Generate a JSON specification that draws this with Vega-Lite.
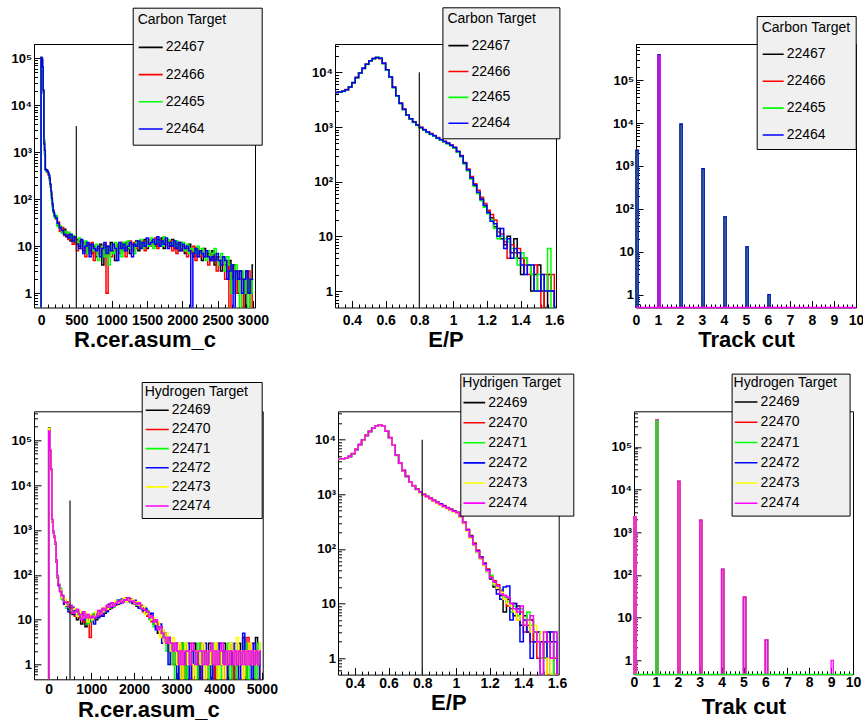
{
"$schema": "https://vega.github.io/schema/vega-lite/v6.json",
"background": "white",
"padding": {"left": 10, "top": 6, "right": 0, "bottom": 0},
"config": {
 "font": "Liberation Sans",
 "view": {"stroke": "#000", "strokeWidth": 1},
 "axis": {"domain": false, "grid": false, "labelFont": "Liberation Sans", "labelFontWeight": "bold", "labelColor": "#000", "tickColor": "#000", "tickWidth": 1, "titleFont": "Liberation Sans", "titleFontWeight": "bold", "titleFontSize": 22, "titleColor": "#000", "labelOverlap": false, "labelFlush": false},
 "axisX": {"labelFontSize": 14, "titlePadding": 2},
 "axisY": {"labelFontSize": 13},
 "legend": {"orient": "none", "fillColor": "#f0f0f0", "strokeColor": "#000", "titleFont": "Liberation Sans", "titleFontSize": 14, "titleFontWeight": "normal", "titleColor": "#000", "labelFont": "Liberation Sans", "labelFontSize": 14, "labelColor": "#000", "symbolType": "stroke", "symbolStrokeWidth": 1.6, "labelOffset": 2, "titleLimit": 300}
},
"datasets": {
 "cuts": [{"p":"A","x":500,"top":3600},{"p":"B","x":0.8,"top":10000},{"p":"D","x":500,"top":4500},{"p":"E","x":0.8,"top":10000}],
 "cerC": [
{"x":-5,"22467":0,"22466":0,"22465":0,"22464":0},
{"x":5,"22467":105000,"22466":100000,"22465":98000,"22464":102000},
{"x":15,"22467":95000,"22466":90000,"22465":92000,"22464":100000},
{"x":25,"22467":60000,"22466":55000,"22465":58000,"22464":65000},
{"x":35,"22467":20000,"22466":18000,"22465":19000,"22464":21000},
{"x":45,"22467":1800,"22466":1600,"22465":1700,"22464":1500},
{"x":55,"22467":900,"22466":1000,"22465":950,"22464":1100},
{"x":65,"22467":440,"22466":420,"22465":450,"22464":430},
{"x":75,"22467":410,"22466":400,"22465":390,"22464":420},
{"x":85,"22467":420,"22466":380,"22465":400,"22464":410},
{"x":95,"22467":380,"22466":400,"22465":370,"22464":390},
{"x":105,"22467":350,"22466":330,"22465":360,"22464":370},
{"x":115,"22467":320,"22466":300,"22465":310,"22464":330},
{"x":125,"22467":250,"22466":270,"22465":260,"22464":280},
{"x":135,"22467":200,"22466":180,"22465":190,"22464":210},
{"x":145,"22467":130,"22466":140,"22465":120,"22464":150},
{"x":155,"22467":95,"22466":100,"22465":90,"22464":105},
{"x":165,"22467":70,"22466":75,"22465":65,"22464":80},
{"x":175,"22467":55,"22466":60,"22465":52,"22464":58},
{"x":185,"22467":50,"22466":45,"22465":48,"22464":52},
{"x":195,"22467":45,"22466":42,"22465":40,"22464":44},
{"x":215,"22467":42,"22466":38,"22465":45,"22464":40},
{"x":245,"22467":28,"22466":33,"22465":26,"22464":31},
{"x":275,"22467":24,"22466":21,"22465":27,"22464":25},
{"x":305,"22467":20,"22466":25,"22465":19,"22464":22},
{"x":335,"22467":23,"22466":17,"22465":21,"22464":18},
{"x":365,"22467":16,"22466":20,"22465":19,"22464":17},
{"x":395,"22467":18,"22466":14,"22465":20,"22464":15},
{"x":425,"22467":13,"22466":17,"22465":15,"22464":18},
{"x":455,"22467":16,"22466":11,"22465":17,"22464":13},
{"x":485,"22467":12,"22466":15,"22465":13,"22464":16},
{"x":515,"22467":14,"22466":8,"22465":12,"22464":11},
{"x":545,"22467":10,"22466":13,"22465":15,"22464":9},
{"x":575,"22467":13,"22466":9,"22465":11,"22464":14},
{"x":605,"22467":8,"22466":12,"22465":10,"22464":7},
{"x":635,"22467":12,"22466":6,"22465":13,"22464":10},
{"x":665,"22467":9,"22466":11,"22465":7,"22464":12},
{"x":695,"22467":11,"22466":8,"22465":10,"22464":6},
{"x":725,"22467":7,"22466":12,"22465":9,"22464":11},
{"x":755,"22467":10,"22466":5,"22465":8,"22464":9},
{"x":785,"22467":6,"22466":9,"22465":11,"22464":8},
{"x":815,"22467":9,"22466":7,"22465":5,"22464":10},
{"x":845,"22467":11,"22466":10,"22465":8,"22464":6},
{"x":875,"22467":4,"22466":8,"22465":10,"22464":9},
{"x":905,"22467":8,"22466":11,"22465":6,"22464":12},
{"x":935,"22467":10,"22466":1,"22465":9,"22464":7},
{"x":965,"22467":7,"22466":9,"22465":4,"22464":10},
{"x":995,"22467":12,"22466":6,"22465":10,"22464":8},
{"x":1025,"22467":8,"22466":10,"22465":7,"22464":11},
{"x":1055,"22467":5,"22466":8,"22465":12,"22464":9},
{"x":1085,"22467":10,"22466":11,"22465":8,"22464":5},
{"x":1115,"22467":9,"22466":7,"22465":11,"22464":12},
{"x":1145,"22467":11,"22466":12,"22465":6,"22464":9},
{"x":1175,"22467":8,"22466":10,"22465":12,"22464":11},
{"x":1205,"22467":12,"22466":6,"22465":10,"22464":8},
{"x":1235,"22467":9,"22466":11,"22465":13,"22464":10},
{"x":1265,"22467":7,"22466":13,"22465":9,"22464":12},
{"x":1295,"22467":11,"22466":8,"22465":10,"22464":6},
{"x":1325,"22467":10,"22466":12,"22465":7,"22464":11},
{"x":1355,"22467":13,"22466":9,"22465":12,"22464":10},
{"x":1385,"22467":8,"22466":11,"22465":10,"22464":13},
{"x":1415,"22467":12,"22466":10,"22465":14,"22464":9},
{"x":1445,"22467":10,"22466":13,"22465":9,"22464":12},
{"x":1475,"22467":14,"22466":8,"22465":11,"22464":10},
{"x":1505,"22467":9,"22466":12,"22465":13,"22464":15},
{"x":1535,"22467":11,"22466":14,"22465":10,"22464":11},
{"x":1565,"22467":13,"22466":10,"22465":15,"22464":12},
{"x":1595,"22467":12,"22466":11,"22465":9,"22464":14},
{"x":1625,"22467":10,"22466":15,"22465":12,"22464":11},
{"x":1655,"22467":14,"22466":9,"22465":13,"22464":16},
{"x":1685,"22467":11,"22466":13,"22465":12,"22464":10},
{"x":1715,"22467":15,"22466":12,"22465":10,"22464":13},
{"x":1745,"22467":9,"22466":14,"22465":16,"22464":11},
{"x":1775,"22467":13,"22466":11,"22465":12,"22464":15},
{"x":1805,"22467":12,"22466":10,"22465":14,"22464":9},
{"x":1835,"22467":10,"22466":13,"22465":11,"22464":12},
{"x":1865,"22467":14,"22466":8,"22465":12,"22464":10},
{"x":1895,"22467":9,"22466":12,"22465":10,"22464":13},
{"x":1925,"22467":11,"22466":7,"22465":13,"22464":9},
{"x":1955,"22467":8,"22466":11,"22465":9,"22464":12},
{"x":1985,"22467":12,"22466":9,"22465":10,"22464":8},
{"x":2015,"22467":10,"22466":8,"22465":12,"22464":11},
{"x":2045,"22467":7,"22466":10,"22465":8,"22464":9},
{"x":2075,"22467":9,"22466":6,"22465":11,"22464":10},
{"x":2105,"22467":11,"22466":9,"22465":7,"22464":8},
{"x":2135,"22467":8,"22466":7,"22465":9,"22464":0},
{"x":2165,"22467":6,"22466":10,"22465":8,"22464":7},
{"x":2195,"22467":9,"22466":5,"22465":7,"22464":9},
{"x":2225,"22467":7,"22466":9,"22465":10,"22464":6},
{"x":2255,"22467":8,"22466":6,"22465":7,"22464":8},
{"x":2285,"22467":5,"22466":8,"22465":9,"22464":7},
{"x":2315,"22467":9,"22466":6,"22465":7,"22464":6},
{"x":2345,"22467":6,"22466":7,"22465":5,"22464":8},
{"x":2375,"22467":7,"22466":4,"22465":8,"22464":6},
{"x":2405,"22467":5,"22466":7,"22465":6,"22464":5},
{"x":2435,"22467":8,"22466":5,"22465":7,"22464":6},
{"x":2465,"22467":4,"22466":6,"22465":9,"22464":5},
{"x":2495,"22467":6,"22466":3,"22465":5,"22464":7},
{"x":2525,"22467":5,"22466":6,"22465":4,"22464":5},
{"x":2555,"22467":3,"22466":5,"22465":7,"22464":4},
{"x":2585,"22467":6,"22466":4,"22465":5,"22464":6},
{"x":2615,"22467":4,"22466":2,"22465":3,"22464":5},
{"x":2645,"22467":3,"22466":5,"22465":6,"22464":2},
{"x":2675,"22467":5,"22466":0,"22465":4,"22464":3},
{"x":2705,"22467":2,"22466":4,"22465":1,"22464":4},
{"x":2735,"22467":4,"22466":3,"22465":2,"22464":0},
{"x":2765,"22467":3,"22466":1,"22465":4,"22464":3},
{"x":2795,"22467":1,"22466":3,"22465":2,"22464":2},
{"x":2825,"22467":3,"22466":2,"22465":0,"22464":3},
{"x":2855,"22467":2,"22466":0,"22465":3,"22464":1},
{"x":2885,"22467":0,"22466":2,"22465":1,"22464":2},
{"x":2915,"22467":3,"22466":1,"22465":2,"22464":3},
{"x":2945,"22467":2,"22466":3,"22465":0,"22464":1},
{"x":2975,"22467":1,"22466":0,"22465":2,"22464":2},
{"x":3005,"22467":4,"22466":2,"22465":1,"22464":2}
 ],
 "epC": [
{"x":0.29,"22467":4300,"22466":4300,"22465":4300,"22464":4300},
{"x":0.31,"22467":4300,"22466":4320,"22465":4280,"22464":4300},
{"x":0.33,"22467":4350,"22466":4380,"22465":4340,"22464":4360},
{"x":0.35,"22467":4500,"22466":4520,"22465":4480,"22464":4510},
{"x":0.37,"22467":4800,"22466":4850,"22465":4820,"22464":4790},
{"x":0.39,"22467":5400,"22466":5450,"22465":5380,"22464":5420},
{"x":0.41,"22467":6500,"22466":6450,"22465":6550,"22464":6480},
{"x":0.43,"22467":8000,"22466":8100,"22465":7950,"22464":8050},
{"x":0.45,"22467":9700,"22466":9800,"22465":9650,"22464":9750},
{"x":0.47,"22467":11800,"22466":11900,"22465":11700,"22464":11850},
{"x":0.49,"22467":14000,"22466":14100,"22465":13900,"22464":14050},
{"x":0.51,"22467":16200,"22466":16300,"22465":16100,"22464":16250},
{"x":0.53,"22467":17800,"22466":17900,"22465":17700,"22464":17850},
{"x":0.55,"22467":18600,"22466":18500,"22465":18900,"22464":18700},
{"x":0.57,"22467":18000,"22466":17900,"22465":18200,"22464":18100},
{"x":0.59,"22467":14500,"22466":14700,"22465":14400,"22464":14600},
{"x":0.61,"22467":11000,"22466":11200,"22465":10900,"22464":11100},
{"x":0.63,"22467":8200,"22466":8300,"22465":8100,"22464":8250},
{"x":0.65,"22467":5300,"22466":5400,"22465":5250,"22464":5350},
{"x":0.67,"22467":3700,"22466":3750,"22465":3650,"22464":3720},
{"x":0.69,"22467":2700,"22466":2750,"22465":2680,"22464":2720},
{"x":0.71,"22467":2100,"22466":2130,"22465":2080,"22464":2110},
{"x":0.73,"22467":1650,"22466":1680,"22465":1640,"22464":1660},
{"x":0.75,"22467":1400,"22466":1420,"22465":1380,"22464":1410},
{"x":0.77,"22467":1220,"22466":1240,"22465":1210,"22464":1230},
{"x":0.79,"22467":1080,"22466":1100,"22465":1070,"22464":1090},
{"x":0.81,"22467":970,"22466":990,"22465":960,"22464":980},
{"x":0.83,"22467":880,"22466":900,"22465":870,"22464":890},
{"x":0.85,"22467":800,"22466":820,"22465":790,"22464":810},
{"x":0.87,"22467":740,"22466":760,"22465":730,"22464":745},
{"x":0.89,"22467":680,"22466":700,"22465":675,"22464":690},
{"x":0.91,"22467":620,"22466":640,"22465":615,"22464":630},
{"x":0.93,"22467":580,"22466":590,"22465":570,"22464":585},
{"x":0.95,"22467":540,"22466":550,"22465":530,"22464":545},
{"x":0.97,"22467":500,"22466":510,"22465":495,"22464":505},
{"x":0.99,"22467":460,"22466":470,"22465":455,"22464":465},
{"x":1.01,"22467":415,"22466":425,"22465":410,"22464":420},
{"x":1.03,"22467":350,"22466":360,"22465":345,"22464":355},
{"x":1.05,"22467":290,"22466":300,"22465":285,"22464":295},
{"x":1.07,"22467":215,"22466":225,"22465":210,"22464":220},
{"x":1.09,"22467":160,"22466":170,"22465":158,"22464":165},
{"x":1.11,"22467":115,"22466":125,"22465":112,"22464":118},
{"x":1.13,"22467":85,"22466":92,"22465":82,"22464":88},
{"x":1.15,"22467":62,"22466":70,"22465":60,"22464":64},
{"x":1.17,"22467":48,"22466":52,"22465":45,"22464":47},
{"x":1.19,"22467":36,"22466":40,"22465":34,"22464":37},
{"x":1.21,"22467":28,"22466":30,"22465":26,"22464":27},
{"x":1.23,"22467":22,"22466":25,"22465":20,"22464":19},
{"x":1.25,"22467":15,"22466":20,"22465":14,"22464":17},
{"x":1.27,"22467":14,"22466":12,"22465":9,"22464":10},
{"x":1.29,"22467":9,"22466":11,"22465":10,"22464":14},
{"x":1.31,"22467":7,"22466":8,"22465":9,"22464":6},
{"x":1.33,"22467":10,"22466":4,"22465":8,"22464":9},
{"x":1.35,"22467":5,"22466":7,"22465":6,"22464":4},
{"x":1.37,"22467":9,"22466":5,"22465":4,"22464":6},
{"x":1.39,"22467":4,"22466":6,"22465":3,"22464":5},
{"x":1.41,"22467":2,"22466":4,"22465":5,"22464":3},
{"x":1.43,"22467":4,"22466":3,"22465":4,"22464":2},
{"x":1.45,"22467":3,"22466":2,"22465":3,"22464":3},
{"x":1.47,"22467":1,"22466":2,"22465":2,"22464":3},
{"x":1.49,"22467":2,"22466":3,"22465":1,"22464":1},
{"x":1.51,"22467":3,"22466":1,"22465":2,"22464":1},
{"x":1.53,"22467":1,"22466":0,"22465":2,"22464":2},
{"x":1.55,"22467":0,"22466":2,"22465":1,"22464":1},
{"x":1.57,"22467":2,"22466":1,"22465":6,"22464":1},
{"x":1.59,"22467":1,"22466":2,"22465":0,"22464":1},
{"x":1.61,"22467":0,"22466":0,"22465":0,"22464":0}
 ],
 "trkC": [
{"r":"22467","x0":0,"x1":0.1,"n":2300},{"r":"22467","x0":1,"x1":1.1,"n":385000},{"r":"22467","x0":2,"x1":2.1,"n":9500},{"r":"22467","x0":3,"x1":3.1,"n":870},{"r":"22467","x0":4,"x1":4.1,"n":65},{"r":"22467","x0":5,"x1":5.1,"n":13},{"r":"22467","x0":6,"x1":6.1,"n":1},
{"r":"22466","x0":0,"x1":0.1,"n":2300},{"r":"22466","x0":1,"x1":1.1,"n":385000},{"r":"22466","x0":2,"x1":2.1,"n":9500},{"r":"22466","x0":3,"x1":3.1,"n":870},{"r":"22466","x0":4,"x1":4.1,"n":65},{"r":"22466","x0":5,"x1":5.1,"n":13},{"r":"22466","x0":6,"x1":6.1,"n":1},
{"r":"22465","x0":0,"x1":0.1,"n":2300},{"r":"22465","x0":1,"x1":1.1,"n":385000},{"r":"22465","x0":2,"x1":2.1,"n":9500},{"r":"22465","x0":3,"x1":3.1,"n":870},{"r":"22465","x0":4,"x1":4.1,"n":65},{"r":"22465","x0":5,"x1":5.1,"n":13},{"r":"22465","x0":6,"x1":6.1,"n":1},
{"r":"22464","x0":0,"x1":0.1,"n":2300},{"r":"22464","x0":1,"x1":1.1,"n":390000},{"r":"22464","x0":2,"x1":2.1,"n":9500},{"r":"22464","x0":3,"x1":3.1,"n":870},{"r":"22464","x0":4,"x1":4.1,"n":65},{"r":"22464","x0":5,"x1":5.1,"n":13},{"r":"22464","x0":6,"x1":6.1,"n":1},
{"r":"other","x0":0,"x1":10,"n":0},{"r":"other","x0":1,"x1":1.1,"n":370000}
 ],
 "cerH": [
{"x":-12.5,"22469":0,"22470":0,"22471":0,"22472":0,"22473":0,"22474":0},
{"x":12.5,"22469":190000,"22470":170000,"22471":180000,"22472":175000,"22473":185000,"22474":160000},
{"x":37.5,"22469":60000,"22470":58000,"22471":62000,"22472":59000,"22473":61000,"22474":60000},
{"x":62.5,"22469":22000,"22470":21000,"22471":23000,"22472":22000,"22473":21500,"22474":22500},
{"x":87.5,"22469":1600,"22470":1500,"22471":1650,"22472":1550,"22473":1580,"22474":1700},
{"x":112.5,"22469":900,"22470":870,"22471":920,"22472":880,"22473":910,"22474":950},
{"x":137.5,"22469":700,"22470":680,"22471":720,"22472":690,"22473":710,"22474":730},
{"x":162.5,"22469":500,"22470":480,"22471":520,"22472":490,"22473":510,"22474":530},
{"x":187.5,"22469":200,"22470":190,"22471":210,"22472":195,"22473":205,"22474":215},
{"x":212.5,"22469":90,"22470":85,"22471":95,"22472":88,"22473":92,"22474":96},
{"x":237.5,"22469":60,"22470":57,"22471":63,"22472":58,"22473":62,"22474":61},
{"x":275,"22469":48,"22470":42,"22471":50,"22472":44,"22473":46,"22474":43},
{"x":325,"22469":30,"22470":35,"22471":28,"22472":33,"22473":31,"22474":34},
{"x":375,"22469":24,"22470":28,"22471":27,"22472":22,"22473":29,"22474":25},
{"x":425,"22469":20,"22470":25,"22471":18,"22472":23,"22473":21,"22474":24},
{"x":475,"22469":17,"22470":22,"22471":21,"22472":15,"22473":23,"22474":19},
{"x":525,"22469":19,"22470":14,"22471":20,"22472":17,"22473":16,"22474":21},
{"x":575,"22469":13,"22470":18,"22471":15,"22472":19,"22473":17,"22474":14},
{"x":625,"22469":16,"22470":12,"22471":17,"22472":13,"22473":18,"22474":15},
{"x":675,"22469":10,"22470":15,"22471":13,"22472":16,"22473":12,"22474":17},
{"x":725,"22469":14,"22470":11,"22471":15,"22472":12,"22473":16,"22474":13},
{"x":775,"22469":8,"22470":13,"22471":11,"22472":14,"22473":12,"22474":10},
{"x":825,"22469":13,"22470":9,"22471":14,"22472":10,"22473":11,"22474":15},
{"x":875,"22469":7,"22470":12,"22471":10,"22472":13,"22473":14,"22474":11},
{"x":925,"22469":12,"22470":10,"22471":8,"22472":11,"22473":9,"22474":13},
{"x":975,"22469":9,"22470":4,"22471":12,"22472":10,"22473":13,"22474":11},
{"x":1025,"22469":11,"22470":13,"22471":9,"22472":12,"22473":10,"22474":12},
{"x":1075,"22469":13,"22470":10,"22471":14,"22472":8,"22473":12,"22474":11},
{"x":1125,"22469":10,"22470":14,"22471":11,"22472":13,"22473":15,"22474":12},
{"x":1175,"22469":14,"22470":12,"22471":15,"22472":11,"22473":13,"22474":16},
{"x":1225,"22469":12,"22470":16,"22471":13,"22472":15,"22473":14,"22474":13},
{"x":1275,"22469":16,"22470":13,"22471":17,"22472":12,"22473":15,"22474":18},
{"x":1325,"22469":14,"22470":18,"22471":15,"22472":17,"22473":19,"22474":16},
{"x":1375,"22469":19,"22470":16,"22471":20,"22472":15,"22473":17,"22474":21},
{"x":1425,"22469":17,"22470":21,"22471":18,"22472":22,"22473":20,"22474":19},
{"x":1475,"22469":22,"22470":18,"22471":23,"22472":19,"22473":21,"22474":24},
{"x":1525,"22469":20,"22470":24,"22471":19,"22472":23,"22473":22,"22474":20},
{"x":1575,"22469":25,"22470":21,"22471":24,"22472":22,"22473":26,"22474":23},
{"x":1625,"22469":22,"22470":26,"22471":23,"22472":27,"22473":24,"22474":25},
{"x":1675,"22469":27,"22470":24,"22471":28,"22472":23,"22473":25,"22474":26},
{"x":1725,"22469":24,"22470":28,"22471":25,"22472":29,"22473":27,"22474":24},
{"x":1775,"22469":29,"22470":26,"22471":28,"22472":25,"22473":30,"22474":28},
{"x":1825,"22469":26,"22470":31,"22471":27,"22472":29,"22473":25,"22474":27},
{"x":1875,"22469":30,"22470":25,"22471":29,"22472":26,"22473":28,"22474":31},
{"x":1925,"22469":27,"22470":29,"22471":24,"22472":28,"22473":26,"22474":25},
{"x":1975,"22469":24,"22470":27,"22471":26,"22472":23,"22473":28,"22474":26},
{"x":2025,"22469":26,"22470":22,"22471":25,"22472":27,"22473":23,"22474":24},
{"x":2075,"22469":20,"22470":24,"22471":21,"22472":23,"22473":25,"22474":22},
{"x":2125,"22469":23,"22470":19,"22471":22,"22472":18,"22473":21,"22474":24},
{"x":2175,"22469":18,"22470":21,"22471":17,"22472":20,"22473":19,"22474":18},
{"x":2225,"22469":19,"22470":15,"22471":18,"22472":16,"22473":20,"22474":17},
{"x":2275,"22469":14,"22470":17,"22471":15,"22472":18,"22473":13,"22474":16},
{"x":2325,"22469":15,"22470":12,"22471":16,"22472":13,"22473":14,"22474":15},
{"x":2375,"22469":11,"22470":14,"22471":10,"22472":13,"22473":12,"22474":11},
{"x":2425,"22469":12,"22470":9,"22471":11,"22472":14,"22473":10,"22474":12},
{"x":2475,"22469":8,"22470":10,"22471":7,"22472":9,"22473":11,"22474":9},
{"x":2525,"22469":9,"22470":7,"22471":8,"22472":6,"22473":8,"22474":10},
{"x":2575,"22469":5,"22470":8,"22471":6,"22472":7,"22473":9,"22474":6},
{"x":2625,"22469":7,"22470":5,"22471":6,"22472":8,"22473":4,"22474":7},
{"x":2675,"22469":4,"22470":6,"22471":5,"22472":3,"22473":6,"22474":5},
{"x":2725,"22469":5,"22470":3,"22471":4,"22472":5,"22473":3,"22474":4},
{"x":2775,"22469":3,"22470":4,"22471":2,"22472":4,"22473":5,"22474":3},
{"x":2825,"22469":4,"22470":2,"22471":3,"22472":1,"22473":3,"22474":4},
{"x":2875,"22469":2,"22470":3,"22471":1,"22472":3,"22473":2,"22474":3},
{"x":2925,"22469":3,"22470":1,"22471":2,"22472":2,"22473":4,"22474":2},
{"x":2975,"22469":1,"22470":2,"22471":0,"22472":3,"22473":2,"22474":3},
{"x":3025,"22469":2,"22470":3,"22471":1,"22472":0,"22473":1,"22474":2},
{"x":3075,"22469":0,"22470":1,"22471":2,"22472":2,"22473":3,"22474":1},
{"x":3125,"22469":3,"22470":2,"22471":1,"22472":1,"22473":0,"22474":2},
{"x":3175,"22469":1,"22470":0,"22471":3,"22472":2,"22473":2,"22474":1},
{"x":3225,"22469":2,"22470":1,"22471":0,"22472":1,"22473":3,"22474":2},
{"x":3275,"22469":0,"22470":2,"22471":1,"22472":3,"22473":1,"22474":2},
{"x":3325,"22469":1,"22470":3,"22471":2,"22472":0,"22473":2,"22474":1},
{"x":3375,"22469":2,"22470":0,"22471":1,"22472":2,"22473":1,"22474":3},
{"x":3425,"22469":3,"22470":1,"22471":2,"22472":1,"22473":0,"22474":2},
{"x":3475,"22469":1,"22470":2,"22471":0,"22472":2,"22473":2,"22474":1},
{"x":3525,"22469":0,"22470":1,"22471":3,"22472":1,"22473":2,"22474":2},
{"x":3575,"22469":2,"22470":3,"22471":1,"22472":0,"22473":1,"22474":2},
{"x":3625,"22469":1,"22470":0,"22471":2,"22472":2,"22473":3,"22474":1},
{"x":3675,"22469":2,"22470":1,"22471":1,"22472":3,"22473":0,"22474":2},
{"x":3725,"22469":0,"22470":2,"22471":2,"22472":1,"22473":2,"22474":1},
{"x":3775,"22469":3,"22470":1,"22471":0,"22472":2,"22473":1,"22474":2},
{"x":3825,"22469":1,"22470":2,"22471":1,"22472":0,"22473":2,"22474":3},
{"x":3875,"22469":2,"22470":0,"22471":3,"22472":1,"22473":1,"22474":1},
{"x":3925,"22469":0,"22470":1,"22471":1,"22472":2,"22473":3,"22474":2},
{"x":3975,"22469":1,"22470":3,"22471":2,"22472":1,"22473":0,"22474":1},
{"x":4025,"22469":2,"22470":1,"22471":0,"22472":3,"22473":2,"22474":2},
{"x":4075,"22469":1,"22470":2,"22471":1,"22472":1,"22473":1,"22474":3},
{"x":4125,"22469":3,"22470":0,"22471":2,"22472":2,"22473":0,"22474":1},
{"x":4175,"22469":0,"22470":2,"22471":1,"22472":0,"22473":2,"22474":2},
{"x":4225,"22469":2,"22470":1,"22471":3,"22472":1,"22473":1,"22474":1},
{"x":4275,"22469":1,"22470":3,"22471":0,"22472":2,"22473":3,"22474":2},
{"x":4325,"22469":2,"22470":0,"22471":1,"22472":1,"22473":2,"22474":1},
{"x":4375,"22469":0,"22470":2,"22471":2,"22472":3,"22473":1,"22474":2},
{"x":4425,"22469":1,"22470":1,"22471":0,"22472":1,"22473":4,"22474":1},
{"x":4475,"22469":3,"22470":2,"22471":1,"22472":0,"22473":1,"22474":2},
{"x":4525,"22469":1,"22470":0,"22471":2,"22472":2,"22473":2,"22474":1},
{"x":4575,"22469":4,"22470":1,"22471":1,"22472":5,"22473":0,"22474":2},
{"x":4625,"22469":0,"22470":2,"22471":3,"22472":1,"22473":2,"22474":1},
{"x":4675,"22469":2,"22470":4,"22471":0,"22472":1,"22473":1,"22474":2},
{"x":4725,"22469":1,"22470":1,"22471":2,"22472":2,"22473":3,"22474":1},
{"x":4775,"22469":2,"22470":3,"22471":1,"22472":0,"22473":1,"22474":2},
{"x":4825,"22469":0,"22470":1,"22471":2,"22472":3,"22473":2,"22474":1},
{"x":4875,"22469":4,"22470":2,"22471":0,"22472":1,"22473":1,"22474":2},
{"x":4925,"22469":1,"22470":0,"22471":3,"22472":2,"22473":2,"22474":1},
{"x":4975,"22469":2,"22470":1,"22471":1,"22472":0,"22473":3,"22474":2}
 ],
 "epH": [
{"x":0.29,"22469":4400,"22470":4400,"22471":4400,"22472":4400,"22473":4400,"22474":4400},
{"x":0.31,"22469":4400,"22470":4420,"22471":4380,"22472":4410,"22473":4390,"22474":4400},
{"x":0.33,"22469":4450,"22470":4470,"22471":4430,"22472":4460,"22473":4440,"22474":4450},
{"x":0.35,"22469":4600,"22470":4620,"22471":4580,"22472":4610,"22473":4590,"22474":4600},
{"x":0.37,"22469":4900,"22470":4950,"22471":4880,"22472":4920,"22473":4890,"22474":4900},
{"x":0.39,"22469":5500,"22470":5550,"22471":5480,"22472":5520,"22473":5490,"22474":5500},
{"x":0.41,"22469":6600,"22470":6650,"22471":6550,"22472":6620,"22473":6580,"22474":6600},
{"x":0.43,"22469":8100,"22470":8150,"22471":8050,"22472":8120,"22473":8080,"22474":8100},
{"x":0.45,"22469":9800,"22470":9850,"22471":9750,"22472":9820,"22473":9780,"22474":9800},
{"x":0.47,"22469":11900,"22470":12000,"22471":11800,"22472":11950,"22473":11850,"22474":11900},
{"x":0.49,"22469":14100,"22470":14200,"22471":14000,"22472":14150,"22473":14050,"22474":14100},
{"x":0.51,"22469":16200,"22470":16300,"22471":16100,"22472":16250,"22473":16150,"22474":16200},
{"x":0.53,"22469":17700,"22470":17800,"22471":17600,"22472":17750,"22473":17650,"22474":17700},
{"x":0.55,"22469":18500,"22470":18600,"22471":18400,"22472":18700,"22473":18450,"22474":18500},
{"x":0.57,"22469":17800,"22470":17900,"22471":17700,"22472":17850,"22473":17750,"22474":17800},
{"x":0.59,"22469":14300,"22470":14400,"22471":14200,"22472":14350,"22473":14250,"22474":14300},
{"x":0.61,"22469":10800,"22470":10900,"22471":10700,"22472":10850,"22473":10750,"22474":10800},
{"x":0.63,"22469":8000,"22470":8100,"22471":7900,"22472":8050,"22473":7950,"22474":8000},
{"x":0.65,"22469":5200,"22470":5300,"22471":5100,"22472":5250,"22473":5150,"22474":5200},
{"x":0.67,"22469":3700,"22470":3750,"22471":3650,"22472":3720,"22473":3680,"22474":3700},
{"x":0.69,"22469":2700,"22470":2750,"22471":2650,"22472":2720,"22473":2680,"22474":2700},
{"x":0.71,"22469":2120,"22470":2150,"22471":2100,"22472":2130,"22473":2110,"22474":2120},
{"x":0.73,"22469":1680,"22470":1700,"22471":1660,"22472":1690,"22473":1670,"22474":1680},
{"x":0.75,"22469":1420,"22470":1440,"22471":1400,"22472":1430,"22473":1410,"22474":1420},
{"x":0.77,"22469":1230,"22470":1250,"22471":1210,"22472":1240,"22473":1220,"22474":1230},
{"x":0.79,"22469":1090,"22470":1110,"22471":1080,"22472":1100,"22473":1070,"22474":1090},
{"x":0.81,"22469":980,"22470":1000,"22471":970,"22472":990,"22473":960,"22474":980},
{"x":0.83,"22469":900,"22470":920,"22471":890,"22472":910,"22473":880,"22474":900},
{"x":0.85,"22469":830,"22470":850,"22471":820,"22472":840,"22473":810,"22474":830},
{"x":0.87,"22469":760,"22470":780,"22471":750,"22472":770,"22473":740,"22474":760},
{"x":0.89,"22469":700,"22470":720,"22471":690,"22472":710,"22473":680,"22474":700},
{"x":0.91,"22469":650,"22470":670,"22471":640,"22472":660,"22473":630,"22474":650},
{"x":0.93,"22469":600,"22470":620,"22471":590,"22472":610,"22473":580,"22474":600},
{"x":0.95,"22469":560,"22470":575,"22471":550,"22472":565,"22473":545,"22474":560},
{"x":0.97,"22469":520,"22470":535,"22471":510,"22472":525,"22473":505,"22474":520},
{"x":0.99,"22469":490,"22470":500,"22471":480,"22472":495,"22473":475,"22474":490},
{"x":1.01,"22469":460,"22470":470,"22471":450,"22472":465,"22473":445,"22474":460},
{"x":1.03,"22469":390,"22470":400,"22471":380,"22472":395,"22473":385,"22474":390},
{"x":1.05,"22469":300,"22470":310,"22471":295,"22472":305,"22473":290,"22474":300},
{"x":1.07,"22469":220,"22470":230,"22471":215,"22472":225,"22473":210,"22474":220},
{"x":1.09,"22469":165,"22470":175,"22471":160,"22472":170,"22473":158,"22474":165},
{"x":1.11,"22469":120,"22470":128,"22471":115,"22472":122,"22473":118,"22474":120},
{"x":1.13,"22469":90,"22470":95,"22471":86,"22472":92,"22473":88,"22474":90},
{"x":1.15,"22469":68,"22470":72,"22471":65,"22472":70,"22473":66,"22474":68},
{"x":1.17,"22469":52,"22470":55,"22471":50,"22472":54,"22473":49,"22474":52},
{"x":1.19,"22469":40,"22470":43,"22471":38,"22472":41,"22473":39,"22474":40},
{"x":1.21,"22469":28,"22470":31,"22471":33,"22472":29,"22473":30,"22474":30},
{"x":1.23,"22469":20,"22470":26,"22471":22,"22472":24,"22473":23,"22474":25},
{"x":1.25,"22469":18,"22470":22,"22471":20,"22472":15,"22473":19,"22474":21},
{"x":1.27,"22469":14,"22470":17,"22471":18,"22472":12,"22473":16,"22474":15},
{"x":1.29,"22469":7,"22470":14,"22471":13,"22472":20,"22473":12,"22474":14},
{"x":1.31,"22469":12,"22470":9,"22471":11,"22472":21,"22473":10,"22474":13},
{"x":1.33,"22469":10,"22470":8,"22471":7,"22472":5,"22473":9,"22474":10},
{"x":1.35,"22469":6,"22470":10,"22471":9,"22472":10,"22473":7,"22474":8},
{"x":1.37,"22469":9,"22470":5,"22471":6,"22472":8,"22473":5,"22474":7},
{"x":1.39,"22469":4,"22470":7,"22471":8,"22472":2,"22473":6,"22474":9},
{"x":1.41,"22469":6,"22470":3,"22471":5,"22472":5,"22473":4,"22474":4},
{"x":1.43,"22469":3,"22470":4,"22471":7,"22472":3,"22473":5,"22474":5},
{"x":1.45,"22469":5,"22470":2,"22471":4,"22472":1,"22473":3,"22474":6},
{"x":1.47,"22469":2,"22470":3,"22471":3,"22472":2,"22473":4,"22474":3},
{"x":1.49,"22469":3,"22470":1,"22471":2,"22472":3,"22473":2,"22474":2},
{"x":1.51,"22469":2,"22470":1,"22471":1,"22472":0,"22473":3,"22474":0},
{"x":1.53,"22469":1,"22470":2,"22471":1,"22472":2,"22473":0,"22474":3},
{"x":1.55,"22469":3,"22470":0,"22471":2,"22472":1,"22473":1,"22474":2},
{"x":1.57,"22469":2,"22470":1,"22471":0,"22472":3,"22473":0,"22474":1},
{"x":1.59,"22469":0,"22470":1,"22471":3,"22472":2,"22473":0,"22474":3},
{"x":1.61,"22469":0,"22470":0,"22471":0,"22472":0,"22473":0,"22474":0}
 ],
 "trkH": [
{"r":"22469","x0":0,"x1":0.1,"n":2300},{"r":"22469","x0":1,"x1":1.1,"n":420000},{"r":"22469","x0":2,"x1":2.1,"n":15600},{"r":"22469","x0":3,"x1":3.1,"n":1900},{"r":"22469","x0":4,"x1":4.1,"n":135},{"r":"22469","x0":5,"x1":5.1,"n":30},{"r":"22469","x0":6,"x1":6.1,"n":3},
{"r":"22470","x0":0,"x1":0.1,"n":2300},{"r":"22470","x0":1,"x1":1.1,"n":420000},{"r":"22470","x0":2,"x1":2.1,"n":15600},{"r":"22470","x0":3,"x1":3.1,"n":1900},{"r":"22470","x0":4,"x1":4.1,"n":135},{"r":"22470","x0":5,"x1":5.1,"n":30},{"r":"22470","x0":6,"x1":6.1,"n":3},
{"r":"22472","x0":0,"x1":0.1,"n":2300},{"r":"22472","x0":1,"x1":1.1,"n":420000},{"r":"22472","x0":2,"x1":2.1,"n":15600},{"r":"22472","x0":3,"x1":3.1,"n":1900},{"r":"22472","x0":4,"x1":4.1,"n":135},{"r":"22472","x0":5,"x1":5.1,"n":30},{"r":"22472","x0":6,"x1":6.1,"n":3},
{"r":"22473","x0":0,"x1":0.1,"n":2300},{"r":"22473","x0":1,"x1":1.1,"n":420000},{"r":"22473","x0":2,"x1":2.1,"n":15600},{"r":"22473","x0":3,"x1":3.1,"n":1900},{"r":"22473","x0":4,"x1":4.1,"n":135},{"r":"22473","x0":5,"x1":5.1,"n":30},{"r":"22473","x0":6,"x1":6.1,"n":3},
{"r":"22474","x0":0,"x1":0.1,"n":2300},{"r":"22474","x0":1,"x1":1.1,"n":420000},{"r":"22474","x0":2,"x1":2.1,"n":15600},{"r":"22474","x0":3,"x1":3.1,"n":1900},{"r":"22474","x0":4,"x1":4.1,"n":135},{"r":"22474","x0":5,"x1":5.1,"n":30},{"r":"22474","x0":6,"x1":6.1,"n":3},{"r":"22474","x0":9,"x1":9.1,"n":1},
{"r":"22471","x0":0,"x1":10,"n":0},{"r":"22471","x0":1,"x1":1.1,"n":400000}
 ]
},
"vconcat": [
 {"hconcat": [
  {"width": 221, "height": 263.5,
   "resolve": {"axis": {"x": "independent"}},
   "layer": [
    {"data": {"name": "cerC"},
     "transform": [{"fold": ["22467","22466","22465","22464"], "as": ["run","count"]}],
     "mark": {"type": "line", "interpolate": "step", "strokeWidth": 1.5, "clip": true},
     "encoding": {
      "x": {"field": "x", "type": "quantitative", "scale": {"domain": [-100, 3030], "nice": false, "zero": false},
            "axis": {"orient": "bottom", "title": "R.cer.asum_c", "format": "d", "values": [0,500,1000,1500,2000,2500,3000], "tickSize": -7, "labelPadding": 13, "labelOverlap": false, "labelFlush": false}},
      "y": {"field": "count", "type": "quantitative", "scale": {"type": "log", "domain": [0.5, 200000], "nice": false, "clamp": true},
            "axis": {"title": null, "labelOverlap": false, "values": [0.6,0.7,0.8,0.9,1,2,3,4,5,6,7,8,9,10,20,30,40,50,60,70,80,90,100,200,300,400,500,600,700,800,900,1000,2000,3000,4000,5000,6000,7000,8000,9000,10000,20000,30000,40000,50000,60000,70000,80000,90000,100000,200000],
                     "labelExpr": "datum.value == 1 ? '1' : datum.value == 10 ? '10' : datum.value == 100 ? '10\u00b2' : datum.value == 1000 ? '10\u00b3' : datum.value == 10000 ? '10\u2074' : datum.value == 100000 ? '10\u2075' : ''",
                     "tickSize": {"condition": {"test": "indexof([1,10,100,1000,10000,100000], datum.value) >= 0", "value": -7}, "value": -3.5}, "labelPadding": 9.5}},
      "color": {"field": "run", "type": "nominal", "scale": {"domain": ["22467","22466","22465","22464"], "range": ["#000000","#ff0000","#00ff00","#0000ff"]},
                "legend": {"title": "Carbon Target\u00a0\u00a0\u00a0\u00a0\u00a0\u2800", "legendX": 98.7, "legendY": -36.3, "padding": 5, "titlePadding": 10.7, "clipHeight": 20, "rowPadding": 7.2, "symbolSize": 576}}
     }},
    {"data": {"name": "cuts"}, "transform": [{"filter": "datum.p == 'A'"}],
     "mark": {"type": "rule", "color": "#222222", "strokeWidth": 1.3},
     "encoding": {"x": {"field": "x", "type": "quantitative", "axis": {"orient": "bottom", "title": null, "labels": false, "tickSize": -3.5, "values": [100,200,300,400,600,700,800,900,1100,1200,1300,1400,1600,1700,1800,1900,2100,2200,2300,2400,2600,2700,2800,2900]}},
                  "y": {"field": "top", "type": "quantitative"}, "y2": {"datum": 0}}}
   ]},
  {"width": 221, "height": 263.5,
   "resolve": {"axis": {"x": "independent"}},
   "layer": [
    {"data": {"name": "epC"},
     "transform": [{"fold": ["22467","22466","22465","22464"], "as": ["run","count"]}],
     "mark": {"type": "line", "interpolate": "step", "strokeWidth": 1.5, "clip": true},
     "encoding": {
      "x": {"field": "x", "type": "quantitative", "scale": {"domain": [0.3, 1.61], "nice": false, "zero": false},
            "axis": {"orient": "bottom", "title": "E/P", "format": "~g", "values": [0.4,0.6,0.8,1,1.2,1.4,1.6], "tickSize": -7, "labelPadding": 13, "labelOverlap": false, "labelFlush": false}},
      "y": {"field": "count", "type": "quantitative", "scale": {"type": "log", "domain": [0.5, 33000], "nice": false, "clamp": true},
            "axis": {"title": null, "labelOverlap": false, "values": [0.6,0.7,0.8,0.9,1,2,3,4,5,6,7,8,9,10,20,30,40,50,60,70,80,90,100,200,300,400,500,600,700,800,900,1000,2000,3000,4000,5000,6000,7000,8000,9000,10000,20000,30000],
                     "labelExpr": "datum.value == 1 ? '1' : datum.value == 10 ? '10' : datum.value == 100 ? '10\u00b2' : datum.value == 1000 ? '10\u00b3' : datum.value == 10000 ? '10\u2074' : datum.value == 100000 ? '10\u2075' : ''",
                     "tickSize": {"condition": {"test": "indexof([1,10,100,1000,10000,100000], datum.value) >= 0", "value": -7}, "value": -3.5}, "labelPadding": 9.5}},
      "color": {"field": "run", "type": "nominal", "scale": {"domain": ["22467","22466","22465","22464"], "range": ["#000000","#ff0000","#00ff00","#0000ff"]},
                "legend": {"title": "Carbon Target\u00a0\u00a0\u2800", "legendX": 107.4, "legendY": -36.7, "padding": 5, "titlePadding": 10, "clipHeight": 18.6, "rowPadding": 6.9, "symbolSize": 400}}
     }},
    {"data": {"name": "cuts"}, "transform": [{"filter": "datum.p == 'B'"}],
     "mark": {"type": "rule", "color": "#222222", "strokeWidth": 1.3},
     "encoding": {"x": {"field": "x", "type": "quantitative", "axis": {"orient": "bottom", "title": null, "labels": false, "tickSize": -3.5, "values": [0.32,0.36,0.44,0.48,0.52,0.56,0.64,0.68,0.72,0.76,0.84,0.88,0.92,0.96,1.04,1.08,1.12,1.16,1.24,1.28,1.32,1.36,1.44,1.48,1.52,1.56]}},
                  "y": {"field": "top", "type": "quantitative"}, "y2": {"datum": 0}}}
   ]},
  {"width": 220, "height": 263.5,
   "resolve": {"axis": {"x": "independent"}},
   "layer": [
    {"data": {"name": "trkC"}, "transform": [{"filter": "datum.r != 'other'"}],
     "mark": {"type": "rect", "filled": false, "strokeWidth": 1.2},
     "encoding": {
      "x": {"field": "x0", "type": "quantitative", "scale": {"domain": [0, 10], "nice": false, "zero": false},
            "axis": {"orient": "bottom", "title": "Track cut", "format": "d", "values": [0,1,2,3,4,5,6,7,8,9,10], "tickSize": -7, "labelPadding": 13, "labelOverlap": false, "labelFlush": false}},
      "x2": {"field": "x1"},
      "y": {"field": "n", "type": "quantitative", "scale": {"type": "log", "domain": [0.5, 700000], "nice": false, "clamp": true},
            "axis": {"title": null, "labelOverlap": false, "values": [0.6,0.7,0.8,0.9,1,2,3,4,5,6,7,8,9,10,20,30,40,50,60,70,80,90,100,200,300,400,500,600,700,800,900,1000,2000,3000,4000,5000,6000,7000,8000,9000,10000,20000,30000,40000,50000,60000,70000,80000,90000,100000,200000,300000,400000,500000,600000,700000],
                     "labelExpr": "datum.value == 1 ? '1' : datum.value == 10 ? '10' : datum.value == 100 ? '10\u00b2' : datum.value == 1000 ? '10\u00b3' : datum.value == 10000 ? '10\u2074' : datum.value == 100000 ? '10\u2075' : ''",
                     "tickSize": {"condition": {"test": "indexof([1,10,100,1000,10000,100000], datum.value) >= 0", "value": -7}, "value": -3.5}, "labelPadding": 9.5}},
      "y2": {"datum": 0},
      "color": {"field": "r", "type": "nominal", "scale": {"domain": ["22467","22466","22465","22464"], "range": ["#000000","#ff0000","#00ff00","#0000ff"]},
                "legend": {"title": "Carbon Target", "legendX": 120.7, "legendY": -28, "padding": 5, "titlePadding": 11, "clipHeight": 16.6, "rowPadding": 9.9, "symbolSize": 441}}
     }},
    {"data": {"name": "trkC"}, "transform": [{"filter": "datum.r == 'other'"}],
     "mark": {"type": "rect", "filled": false, "strokeWidth": 1.3, "stroke": "#ff00ff"},
     "encoding": {"x": {"field": "x0", "type": "quantitative", "axis": {"orient": "bottom", "title": null, "labels": false, "tickSize": -3.5, "values": [0.2,0.4,0.6,0.8,1.2,1.4,1.6,1.8,2.2,2.4,2.6,2.8,3.2,3.4,3.6,3.8,4.2,4.4,4.6,4.8,5.2,5.4,5.6,5.8,6.2,6.4,6.6,6.8,7.2,7.4,7.6,7.8,8.2,8.4,8.6,8.8,9.2,9.4,9.6,9.8]}},
                  "x2": {"field": "x1"}, "y": {"field": "n", "type": "quantitative"}, "y2": {"datum": 0}}}
   ]}
 ], "spacing": 80, "bounds": "flush", "resolve": {"scale": {"color": "independent"}, "legend": {"color": "independent"}}},
 {"hconcat": [
  {"width": 228.7, "height": 268,
   "resolve": {"axis": {"x": "independent"}},
   "layer": [
    {"data": {"name": "cerH"},
     "transform": [{"fold": ["22469","22470","22471","22472","22473","22474"], "as": ["run","count"]}],
     "mark": {"type": "line", "interpolate": "step", "strokeWidth": 1.5, "clip": true},
     "encoding": {
      "x": {"field": "x", "type": "quantitative", "scale": {"domain": [-345, 5020], "nice": false, "zero": false},
            "axis": {"orient": "bottom", "title": "R.cer.asum_c", "titlePadding": 3.5, "format": "d", "values": [0,1000,2000,3000,4000,5000], "tickSize": -7, "labelPadding": 10, "labelOverlap": false, "labelFlush": false}},
      "y": {"field": "count", "type": "quantitative", "scale": {"type": "log", "domain": [0.47, 440000], "nice": false, "clamp": true},
            "axis": {"title": null, "labelOverlap": false, "values": [0.6,0.7,0.8,0.9,1,2,3,4,5,6,7,8,9,10,20,30,40,50,60,70,80,90,100,200,300,400,500,600,700,800,900,1000,2000,3000,4000,5000,6000,7000,8000,9000,10000,20000,30000,40000,50000,60000,70000,80000,90000,100000,200000,300000,400000],
                     "labelExpr": "datum.value == 1 ? '1' : datum.value == 10 ? '10' : datum.value == 100 ? '10\u00b2' : datum.value == 1000 ? '10\u00b3' : datum.value == 10000 ? '10\u2074' : datum.value == 100000 ? '10\u2075' : ''",
                     "tickSize": {"condition": {"test": "indexof([1,10,100,1000,10000,100000], datum.value) >= 0", "value": -7}, "value": -3.5}, "labelPadding": 9.5}},
      "color": {"field": "run", "type": "nominal", "scale": {"domain": ["22469","22470","22471","22472","22473","22474"], "range": ["#000000","#ff0000","#00ff00","#0000ff","#ffff00","#ff00ff"]},
                "legend": {"title": "Hydrogen Target\u2800", "legendX": 107.7, "legendY": -29.3, "padding": 3, "titlePadding": 3.3, "clipHeight": 16, "rowPadding": 3.15, "symbolSize": 529}}
     }},
    {"data": {"name": "cuts"}, "transform": [{"filter": "datum.p == 'D'"}],
     "mark": {"type": "rule", "color": "#222222", "strokeWidth": 1.3},
     "encoding": {"x": {"field": "x", "type": "quantitative", "axis": {"orient": "bottom", "title": null, "labels": false, "tickSize": -3.5, "values": [200,400,600,800,1200,1400,1600,1800,2200,2400,2600,2800,3200,3400,3600,3800,4200,4400,4600,4800]}},
                  "y": {"field": "top", "type": "quantitative"}, "y2": {"datum": 0}}}
   ]},
  {"width": 220.7, "height": 263.3,
   "resolve": {"axis": {"x": "independent"}},
   "layer": [
    {"data": {"name": "epH"},
     "transform": [{"fold": ["22469","22470","22471","22472","22473","22474"], "as": ["run","count"]}],
     "mark": {"type": "line", "interpolate": "step", "strokeWidth": 1.5, "clip": true},
     "encoding": {
      "x": {"field": "x", "type": "quantitative", "scale": {"domain": [0.3, 1.61], "nice": false, "zero": false},
            "axis": {"orient": "bottom", "title": "E/P", "titlePadding": 2, "format": "~g", "values": [0.4,0.6,0.8,1,1.2,1.4,1.6], "tickSize": -7, "labelPadding": 8.5, "labelOverlap": false, "labelFlush": false}},
      "y": {"field": "count", "type": "quantitative", "scale": {"type": "log", "domain": [0.5, 33000], "nice": false, "clamp": true},
            "axis": {"title": null, "labelOverlap": false, "values": [0.6,0.7,0.8,0.9,1,2,3,4,5,6,7,8,9,10,20,30,40,50,60,70,80,90,100,200,300,400,500,600,700,800,900,1000,2000,3000,4000,5000,6000,7000,8000,9000,10000,20000,30000],
                     "labelExpr": "datum.value == 1 ? '1' : datum.value == 10 ? '10' : datum.value == 100 ? '10\u00b2' : datum.value == 1000 ? '10\u00b3' : datum.value == 10000 ? '10\u2074' : datum.value == 100000 ? '10\u2075' : ''",
                     "tickSize": {"condition": {"test": "indexof([1,10,100,1000,10000,100000], datum.value) >= 0", "value": -7}, "value": -3.5}, "labelPadding": 9.5}},
      "color": {"field": "run", "type": "nominal", "scale": {"domain": ["22469","22470","22471","22472","22473","22474"], "range": ["#000000","#ff0000","#00ff00","#0000ff","#ffff00","#ff00ff"]},
                "legend": {"title": "Hydrigen Target\u2800", "legendX": 122.3, "legendY": -37.7, "padding": 2, "titlePadding": 3.3, "clipHeight": 19.4, "rowPadding": 0.1, "symbolSize": 470}}
     }},
    {"data": {"name": "cuts"}, "transform": [{"filter": "datum.p == 'E'"}],
     "mark": {"type": "rule", "color": "#222222", "strokeWidth": 1.3},
     "encoding": {"x": {"field": "x", "type": "quantitative", "axis": {"orient": "bottom", "title": null, "labels": false, "tickSize": -3.5, "values": [0.32,0.36,0.44,0.48,0.52,0.56,0.64,0.68,0.72,0.76,0.84,0.88,0.92,0.96,1.04,1.08,1.12,1.16,1.24,1.28,1.32,1.36,1.44,1.48,1.52,1.56]}},
                  "y": {"field": "top", "type": "quantitative"}, "y2": {"datum": 0}}}
   ]},
  {"width": 219, "height": 263,
   "resolve": {"axis": {"x": "independent"}},
   "layer": [
    {"data": {"name": "trkH"}, "transform": [{"filter": "datum.r != '22471'"}],
     "mark": {"type": "rect", "filled": false, "strokeWidth": 1.3},
     "encoding": {
      "x": {"field": "x0", "type": "quantitative", "scale": {"domain": [0, 10], "nice": false, "zero": false},
            "axis": {"orient": "bottom", "title": "Trak cut", "titlePadding": 6.5, "format": "d", "values": [0,1,2,3,4,5,6,7,8,9,10], "tickSize": -7, "labelPadding": 8.5, "labelOverlap": false, "labelFlush": false}},
      "x2": {"field": "x1"},
      "y": {"field": "n", "type": "quantitative", "scale": {"type": "log", "domain": [0.47, 680000], "nice": false, "clamp": true},
            "axis": {"title": null, "labelOverlap": false, "values": [0.6,0.7,0.8,0.9,1,2,3,4,5,6,7,8,9,10,20,30,40,50,60,70,80,90,100,200,300,400,500,600,700,800,900,1000,2000,3000,4000,5000,6000,7000,8000,9000,10000,20000,30000,40000,50000,60000,70000,80000,90000,100000,200000,300000,400000,500000,600000],
                     "labelExpr": "datum.value == 1 ? '1' : datum.value == 10 ? '10' : datum.value == 100 ? '10\u00b2' : datum.value == 1000 ? '10\u00b3' : datum.value == 10000 ? '10\u2074' : datum.value == 100000 ? '10\u2075' : ''",
                     "tickSize": {"condition": {"test": "indexof([1,10,100,1000,10000,100000], datum.value) >= 0", "value": -7}, "value": -3.5}, "labelPadding": 9.5}},
      "y2": {"datum": 0},
      "color": {"field": "r", "type": "nominal", "scale": {"domain": ["22469","22470","22471","22472","22473","22474"], "range": ["#000000","#ff0000","#00ff00","#0000ff","#ffff00","#ff00ff"]},
                "legend": {"title": "Hydrogen Target\u2800", "legendX": 97.6, "legendY": -37.7, "padding": 2, "titlePadding": 2.7, "clipHeight": 19.4, "rowPadding": 0.26, "symbolSize": 515}}
     }},
    {"data": {"name": "trkH"}, "transform": [{"filter": "datum.r == '22471'"}],
     "mark": {"type": "rect", "filled": false, "strokeWidth": 1.3},
     "encoding": {
      "x": {"field": "x0", "type": "quantitative", "axis": {"orient": "bottom", "title": null, "labels": false, "tickSize": -3.5, "values": [0.2,0.4,0.6,0.8,1.2,1.4,1.6,1.8,2.2,2.4,2.6,2.8,3.2,3.4,3.6,3.8,4.2,4.4,4.6,4.8,5.2,5.4,5.6,5.8,6.2,6.4,6.6,6.8,7.2,7.4,7.6,7.8,8.2,8.4,8.6,8.8,9.2,9.4,9.6,9.8]}},
      "x2": {"field": "x1"},
      "y": {"field": "n", "type": "quantitative"},
      "y2": {"datum": 0},
      "color": {"field": "r", "type": "nominal", "scale": {"domain": ["22469","22470","22471","22472","22473","22474"], "range": ["#000000","#ff0000","#00ff00","#0000ff","#ffff00","#ff00ff"]},
                "legend": {"title": "Hydrogen Target\u2800", "legendX": 97.6, "legendY": -37.7, "padding": 2, "titlePadding": 2.7, "clipHeight": 19.4, "rowPadding": 0.26, "symbolSize": 515}}
     }}
   ]}
 ], "spacing": 75, "bounds": "flush", "resolve": {"scale": {"color": "independent"}, "legend": {"color": "independent"}}}
],
"spacing": 21.3,
"resolve": {"scale": {"color": "independent"}, "legend": {"color": "independent"}}
}
